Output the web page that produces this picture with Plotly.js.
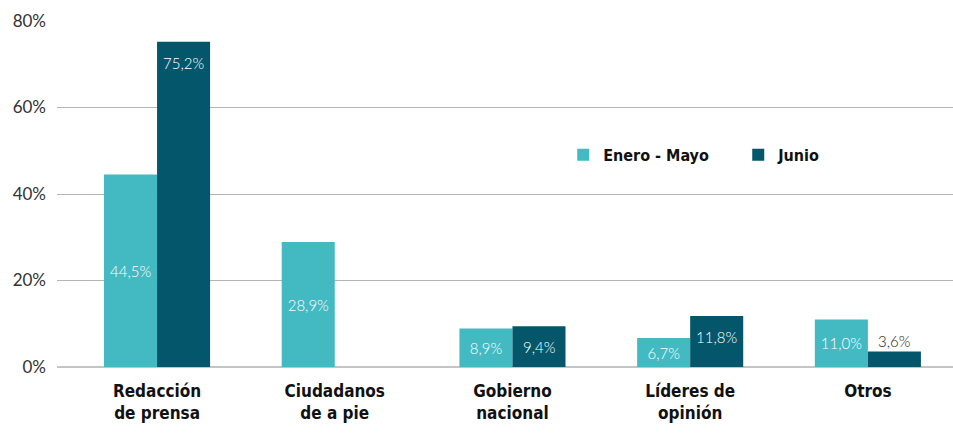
<!DOCTYPE html>
<html>
<head>
<meta charset="utf-8">
<script src="https://cdn.plot.ly/plotly-3.0.1.min.js"></script>
<style>html,body{margin:0;padding:0;background:#fff;}#chart{width:953px;height:440px;}</style>
</head>
<body>
<div id="chart"></div>
<script>
const categories = ["Redacción<br>de prensa", "Ciudadanos<br>de a pie", "Gobierno<br>nacional", "Líderes de<br>opinión", "Otros"];
const seriesNames = ["Enero - Mayo", "Junio"];
const eneroMayo = [44.5, 28.9, 8.9, 6.7, 11.0];
const junio = [75.2, null, 9.4, 11.8, 3.6];
const yTicks = [0, 20, 40, 60, 80];

const fmt = v => v == null ? "" : v.toFixed(1).replace(".", ",") + "%";
const boldFont = "'Liberation Sans Narrow', 'DejaVu Sans Condensed', Roboto, sans-serif";
const lightFont = "Lato, 'Open Sans', sans-serif";

const traces = [
  {
    type: "bar", name: seriesNames[0], x: categories, y: eneroMayo,
    marker: {color: "#43BAC2"},
    text: eneroMayo.map(fmt), textposition: "inside", insidetextanchor: "middle",
    textfont: {family: lightFont, size: 15, color: "#ffffff", weight: 300},
    hoverinfo: "skip", cliponaxis: false
  },
  {
    type: "bar", name: seriesNames[1], x: categories, y: junio,
    marker: {color: "#04576B"},
    textposition: "none",
    hoverinfo: "skip", cliponaxis: false
  }
];

// Junio value labels, placed from the data values
const barHalf = 26.5;
const annotations = [];
junio.forEach((v, i) => {
  if (v == null) return;
  const small = v < 5;
  annotations.push({
    x: categories[i], y: v, xref: "x", yref: "y",
    text: fmt(v), showarrow: false,
    xshift: barHalf, yshift: small ? 10 : -21, yanchor: "middle",
    font: {family: lightFont, size: 15, color: small ? "#222222" : "#ffffff", weight: 300}
  });
});

const layout = {
  width: 953, height: 440,
  margin: {l: 57, r: 0, t: 21, b: 73, autoexpand: false},
  paper_bgcolor: "#ffffff", plot_bgcolor: "#ffffff",
  barmode: "group", bargap: 0.403, bargroupgap: 0,
  showlegend: true,
  legend: {
    orientation: "h", x: 0.565, xanchor: "left", y: 0.613, yanchor: "middle",
    font: {family: boldFont, size: 16, color: "#111111", weight: "bold"},
    entrywidth: 130, entrywidthmode: "pixels", itemwidth: 30,
    bgcolor: "rgba(0,0,0,0)"
  },
  annotations: annotations,
  xaxis: {
    type: "category", range: [-0.563, 4.479],
    showgrid: false, zeroline: false, showline: false, ticks: "",
    tickfont: {family: boldFont, size: 17, color: "#111111", weight: "bold"},
    ticklabelstandoff: 12, fixedrange: true
  },
  yaxis: {
    range: [0, 80], tickvals: yTicks, ticktext: yTicks.map(v => v + "%"),
    showgrid: true, gridcolor: "#b5b5b5", gridwidth: 1,
    zeroline: true, zerolinecolor: "#c4c4c4", zerolinewidth: 2,
    showline: false, ticks: "",
    tickfont: {family: lightFont, size: 17, color: "#333333"},
    ticklabelstandoff: 10, fixedrange: true
  }
};

Plotly.newPlot("chart", traces, layout, {displayModeBar: false, staticPlot: true});
</script>
</body>
</html>
